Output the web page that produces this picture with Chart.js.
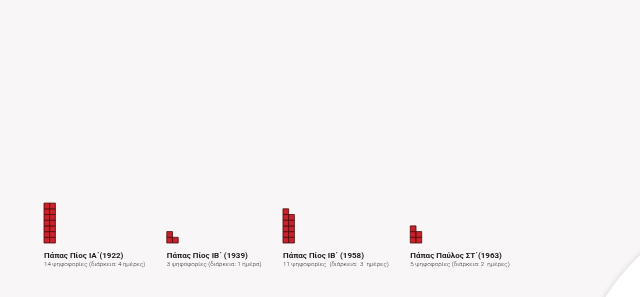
<!DOCTYPE html>
<html>
<head>
<meta charset="utf-8">
<script src="https://cdn.jsdelivr.net/npm/chart.js@4"></script>
<style>
  html, body { margin: 0; padding: 0; background: #f8f6f7; overflow: hidden; }
  #wrap { position: relative; width: 640px; height: 297px; overflow: hidden; }
  #blob { position: absolute; left: 568px; top: 190px; width: 468px; height: 468px;
          border-radius: 50%; background: #fff; box-shadow: 0 0 6px rgba(0,0,0,0.14); }
  canvas { position: absolute; left: 0; top: 0; }
</style>
</head>
<body>
<div id="wrap">
  <div id="blob"></div>
  <canvas id="waffle" width="640" height="297"></canvas>
</div>
<script>
// conclaves: title, number of ballots, duration in days
var titles = ["Πάπας Πίος ΙΑ΄(1922)", "Πάπας Πίος ΙΒ΄ (1939)", "Πάπας Πίος ΙΒ΄ (1958)", "Πάπας Παύλος ΣΤ΄(1963)"];
var ballots = [14, 3, 11, 5];
var subtitles = [
	"14 ψηφοφορίες (διάρκεια: 4 ημέρες)",
	"3 ψηφοφορίες (διάρκεια: 1 ημέρα)",
	"11 ψηφοφορίες  (διάρκεια:  3  ημέρες)",
	"5 ψηφοφορίες (διάρκεια: 2  ημέρες)"
];

var W = 640, H = 297;
var cell = 5.7;        // square size in px
var baseline = 243;    // bottom of the squares
var left0 = 44;
var gap = 21.5;
var titleFont = "bold 8px Roboto";
var subFont = "300 6.2px Roboto";

// place each group after the previous one's label, like inline text flow
var ctx0 = document.getElementById("waffle").getContext("2d");
var groupX = [];
var x = left0;
for (var i = 0; i < titles.length; i++) {
	groupX.push(x);
	ctx0.font = titleFont;
	var w1 = ctx0.measureText(titles[i]).width;
	ctx0.font = subFont;
	var w2 = ctx0.measureText(subtitles[i]).width;
	x += Math.max(w1, w2) + gap;
}

// one point per ballot, two columns, filled from the bottom
var points = [];
for (var g = 0; g < ballots.length; g++) {
	for (var k = 0; k < ballots[g]; k++) {
		points.push({ x: groupX[g] / cell + (k % 2) + 0.5, y: Math.floor(k / 2) + 0.5 });
	}
}

var labelPlugin = {
	id: "labels",
	afterDraw: function (chart) {
		var ctx = chart.ctx;
		ctx.save();
		ctx.textBaseline = "alphabetic";
		for (var i = 0; i < titles.length; i++) {
			ctx.fillStyle = "#1a1a1a";
			ctx.font = titleFont;
			ctx.fillText(titles[i], groupX[i], 258);
			ctx.fillStyle = "#333";
			ctx.font = subFont;
			ctx.fillText(subtitles[i], groupX[i], 266);
		}
		ctx.restore();
	}
};

var chart = new Chart(document.getElementById("waffle"), {
	type: "scatter",
	data: {
		datasets: [{
			data: points,
			pointStyle: "rect",
			pointRadius: cell / 2 / Math.SQRT1_2,
			pointHoverRadius: cell / 2 / Math.SQRT1_2,
			backgroundColor: "#c8232c",
			borderColor: "#4a0a0a",
			borderWidth: 0.8
		}]
	},
	options: {
		responsive: false,
		animation: false,
		clip: false,
		layout: { padding: 0, autoPadding: false },
		plugins: { legend: { display: false }, tooltip: { enabled: false } },
		scales: {
			x: { type: "linear", display: false, min: 0, max: W / cell },
			y: { type: "linear", display: false, min: -(H - baseline) / cell, max: baseline / cell }
		}
	},
	plugins: [labelPlugin]
});
</script>
</body>
</html>
